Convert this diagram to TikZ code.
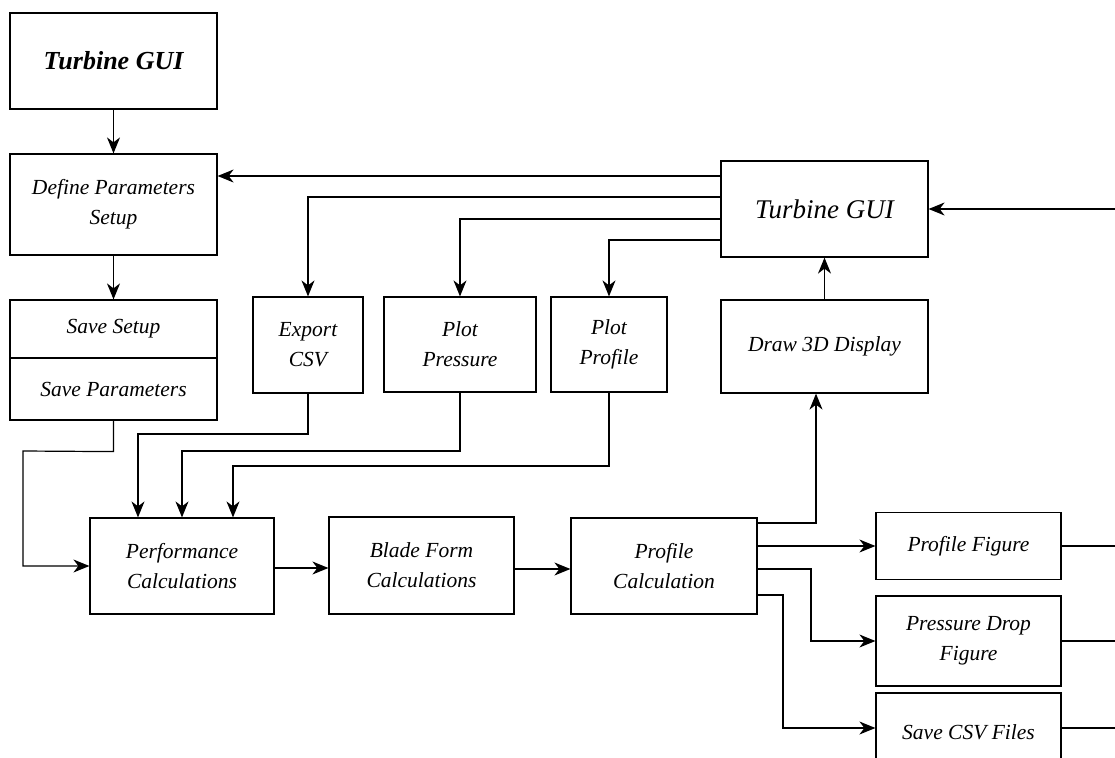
\documentclass[tikz,border=0pt]{standalone}
\usepackage{fontspec}
\setmainfont{Liberation Serif}
\usetikzlibrary{arrows.meta,calc}
\begin{document}
\begin{tikzpicture}[x=1pt,y=-1pt,
  box/.style={draw,line width=1.2pt,inner sep=0pt,align=center,
    font=\itshape\fontsize{21.5}{30}\selectfont},
  wire/.style={line width=1.2pt},
  arr/.style={line width=1.2pt,-{Stealth[length=16pt,width=13pt,inset=5pt]}}]
\useasboundingbox (0,0) rectangle (1115,757);
% nodes
\node[box,minimum width=207pt,minimum height=96pt,font=\bfseries\itshape\fontsize{26}{32}\selectfont] (tg1) at (113.5,61) {Turbine GUI};
\node[box,minimum width=207pt,minimum height=101pt] (dps) at (113.5,204.5) {Define Parameters\\Setup};
\node[box,minimum width=207pt,minimum height=58pt] (ss) at (113.5,329) {Save Setup};
\node[box,minimum width=207pt,minimum height=62pt] (sp) at (113.5,389) {Save Parameters};
\node[box,minimum width=110pt,minimum height=96pt] (csv) at (308,345) {Export\\CSV};
\node[box,minimum width=152pt,minimum height=95pt] (ppr) at (460,344.5) {Plot\\Pressure};
\node[box,minimum width=116pt,minimum height=95pt] (ppf) at (609,344.5) {Plot\\Profile};
\node[box,minimum width=207pt,minimum height=93pt] (d3d) at (824.5,346.5) {Draw 3D Display};
\node[box,minimum width=207pt,minimum height=96pt,font=\itshape\fontsize{27}{32}\selectfont] (tg2) at (824.5,209) {Turbine GUI};
\node[box,minimum width=184pt,minimum height=96pt] (perf) at (182,566) {Performance\\Calculations};
\node[box,minimum width=185pt,minimum height=97pt] (blade) at (421.5,565.5) {Blade Form\\Calculations};
\node[box,minimum width=186pt,minimum height=96pt] (pcalc) at (664,566) {Profile\\Calculation};
\node[box,minimum width=185pt,minimum height=67pt] (pfig) at (968.5,546) {Profile Figure};
\node[box,minimum width=185pt,minimum height=90pt] (pdfig) at (968.5,641) {Pressure Drop\\Figure};
\node[box,minimum width=185pt,minimum height=78pt] (scsv) at (968.5,732) {Save CSV Files};
% free ends on the right edge
\coordinate (r0) at (1115,209);
\coordinate (r1) at (1115,546);
\coordinate (r2) at (1115,641);
\coordinate (r3) at (1115,728);
% connectors
\draw[arr] (tg1.south) -- (dps.north);
\draw[arr] (dps.south) -- (ss.north);
\draw[arr] (tg2.west |- 0,176) -- (dps.east |- 0,176);
\draw[arr] (tg2.west |- 0,197) -| (csv.north);
\draw[arr] (tg2.west |- 0,219) -| (ppr.north);
\draw[arr] (tg2.west |- 0,240) -| (ppf.north);
\draw[arr] (r0) -- (tg2.east);
\draw[arr] (d3d.north) -- (tg2.south);
\draw[arr] (sp.south) -- ++(0,31) -- (23,451) |- (perf.west);
\draw[arr] (csv.south) |- (138,434) -- (perf.north -| 138,0);
\draw[arr] (ppr.south) |- (182,451) -- (perf.north -| 182,0);
\draw[arr] (ppf.south) |- (233,466) -- (perf.north -| 233,0);
\draw[arr] (perf.east |- 0,568) -- (blade.west |- 0,568);
\draw[arr] (blade.east |- 0,569) -- (pcalc.west |- 0,569);
\draw[arr] (pcalc.east |- 0,523) -| (d3d.south -| 816,0);
\draw[arr] (pcalc.east |- 0,546) -- (pfig.west);
\draw[arr] (pcalc.east |- 0,569) -| (811,641) -- (pdfig.west);
\draw[arr] (pcalc.east |- 0,595) -| (783,728) -- (scsv.west |- 0,728);
\draw[wire] (pfig.east) -- (r1);
\draw[wire] (pdfig.east) -- (r2);
\draw[wire] (scsv.east |- 0,728) -- (r3);
\end{tikzpicture}
\end{document}
